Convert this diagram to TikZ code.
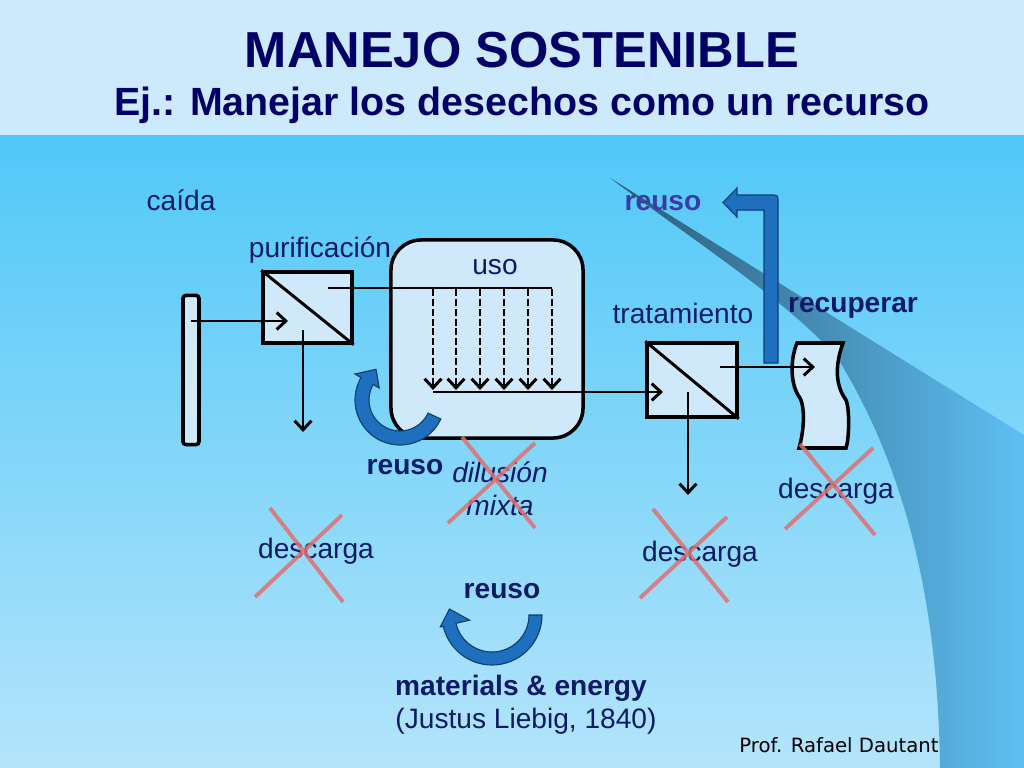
\documentclass[tikz,border=0pt]{standalone}
\usepackage{fontspec}
\setmainfont{Liberation Sans}
\newfontfamily\proffont{DejaVu Sans}
\usetikzlibrary{positioning}
\usetikzlibrary{arrows.meta}
\definecolor{header}{HTML}{CDEAFC}
\definecolor{skytop}{HTML}{50C8F8}
\definecolor{skybot}{HTML}{B4E4FB}
\definecolor{swooshdark}{HTML}{2C5A78}
\definecolor{swooshmid}{HTML}{4F9CCC}
\definecolor{swooshend}{HTML}{5EBFF2}
\definecolor{boxfill}{HTML}{CFE8FA}
\definecolor{navy}{HTML}{0B1A66}
\definecolor{titleblue}{HTML}{000066}
\definecolor{reusotop}{HTML}{3B3BA8}
\definecolor{arrowblue}{HTML}{1E6FBD}
\definecolor{arrowedge}{HTML}{0D3F73}
\definecolor{crossred}{HTML}{E07070}
\newcommand\lblfont{\fontsize{20}{24}\selectfont}
\tikzset{x=0.025cm, y=-0.025cm,
    every node/.style={
        inner sep=0pt,
        text=navy,
        font=\lblfont},
    unit/.style={
        draw,
        line width=2.5pt,
        fill=boxfill},
    flow/.style={
        draw,
        line width=2.1pt,
        -{Straight Barb[length=6.5pt,width=12pt]}},
    drop/.style={
        flow,
        dash pattern=on 5pt off 2pt},
    bigarrow/.style={
        fill=arrowblue,
        draw=arrowedge,
        line width=0.8pt},
    cross/.style={
        draw=crossred,
        line width=2.8pt,
        opacity=0.85},
    bold/.style={font=\lblfont\bfseries}}

\begin{document}
\begin{tikzpicture}
        % background
        \useasboundingbox (0,0) rectangle (1024,768);
        \shade[top color=skytop, bottom color=skybot] (0,135) rectangle (1024,768);
        \fill[header] (0,0) rectangle (1024,135);
        \shade[left color=swooshdark, middle color=swooshmid, right color=swooshend]
            (610,178) -- (1024,435) -- (1024,768) -- (940,768)
            .. controls (938,600) and (905,470) .. (840,362)
            .. controls (800,310) and (700,245) .. (610,178) -- cycle;

        % title
        \node[font=\fontsize{36}{40}\selectfont\bfseries, text=titleblue] (title) at (522,50) {MANEJO SOSTENIBLE};
        \node[font=\fontsize{28}{32}\selectfont\bfseries, text=titleblue] (subtitle) at (522,105) {Ej.: Manejar los desechos como un recurso};

        % units
        \node[unit, rounded corners=2pt, minimum width=0.4cm, minimum height=3.725cm] (bar) at (191,370) {};
        \node[unit, minimum width=2.225cm, minimum height=1.775cm] (purif) at (307.5,307.5) {};
        \node[unit, rounded corners=0.75cm, minimum width=4.8cm, minimum height=4.95cm] (uso) at (487,339) {};
        \node[unit, minimum width=2.25cm, minimum height=1.85cm] (trat) at (692,380) {};
        \draw[line width=2.1pt] (purif.north west) -- (purif.south east);
        \draw[line width=2.1pt] (trat.north west) -- (trat.south east);
        \draw[unit] (797,343) -- (843,343)
            .. controls (835,365) and (835,385) .. (846,400)
            .. controls (850,410) and (849,440) .. (846,448) -- (799,448)
            .. controls (803,435) and (806,410) .. (800,398)
            .. controls (790,385) and (790,360) .. (797,343) -- cycle;

        % ports
        \coordinate (purifin) at (288,321);
        \coordinate (purifout) at (303,330);
        \coordinate (purifup) at (328,288);
        \coordinate (usotop) at (552,288);
        \coordinate (usobot) at (433,392);
        \coordinate (tratin) at (663,392);
        \coordinate (tratout) at (688,392);
        \coordinate (tratup) at (720,367);
        \coordinate (recupin) at (815,367);
        \coordinate (descL) at (303,432);
        \coordinate (descM) at (688,495);

        % flows
        \draw[flow] (bar.center |- purifin) -- (purifin);
        \draw[flow] (purifout) -- (descL);
        \draw[line width=2.1pt] (purifup) -- (usotop);
        \foreach \x in {433,456,480,504,528,552}
            \draw[drop] (\x,289) -- (\x,390);
        \draw[flow] (usobot) -- (tratin);
        \draw[flow] (tratout) -- (descM);
        \draw[flow] (tratup) -- (recupin);

        % reuse arrows
        \path[bigarrow] (764,363) -- (764,210) -- (737,210) -- (737,217) -- (723,202.5)
            -- (737,188) -- (737,195) -- (771,195) .. controls (778,195) .. (778,202)
            -- (778,363) -- cycle;
        \path[bigarrow] ([shift={(400,400)}]25:45) arc[start angle=25, end angle=210, radius=45]
            -- ([shift={(400,400)}]210:52) -- ([shift={(400,400)}]232:39)
            -- ([shift={(400,400)}]210:24) -- ([shift={(400,400)}]210:31)
            arc[start angle=210, end angle=25, radius=31] -- cycle;
        \path[bigarrow] ([shift={(492,615)}]0:50) arc[start angle=0, end angle=167, radius=50]
            -- ([shift={(492,615)}]167:53) -- ([shift={(492,615)}]188:43)
            -- ([shift={(492,615)}]167:23) -- ([shift={(492,615)}]167:37)
            arc[start angle=167, end angle=0, radius=37] -- cycle;

        % labels
        \node (caida) at (181,200) {caída};
        \node (purlbl) at (320,250) {purificación};
        \node (usolbl) at (495,267) {uso};
        \node (tratlbl) at (683,313) {tratamiento};
        \node[bold] (recuplbl) at (853,308) {recuperar};
        \node[bold, text=reusotop] (reusoup) at (663,203) {reuso};
        \node[bold] (reusomid) at (405,467) {reuso};
        \node[font=\lblfont\itshape] (dilucion) at (500,472) {dilusión};
        \node[font=\lblfont\itshape] (mixta) at (500,505) {mixta};
        \node (descargaL) at (316,551) {descarga};
        \node (descargaM) at (700,554) {descarga};
        \node (descargaR) at (836,491) {descarga};
        \node[bold] (reusolow) at (502,591) {reuso};
        \node[bold] (materials) at (521,688) {materials \& energy};
        \node (liebig) at (526,721) {(Justus Liebig, 1840)};
        \node[font=\proffont\fontsize{14}{16}\selectfont, text=black] (prof) at (839,745) {Prof. Rafael Dautant};

        % crossed out
        \draw[cross] (270,508) -- (343,602) (342,515) -- (255,597);
        \draw[cross] (462,437) -- (535,528) (535,443) -- (448,523);
        \draw[cross] (653,509) -- (728,602) (727,517) -- (640,598);
        \draw[cross] (800,444) -- (875,535) (873,448) -- (785,529);
    \end{tikzpicture}
\end{document}
